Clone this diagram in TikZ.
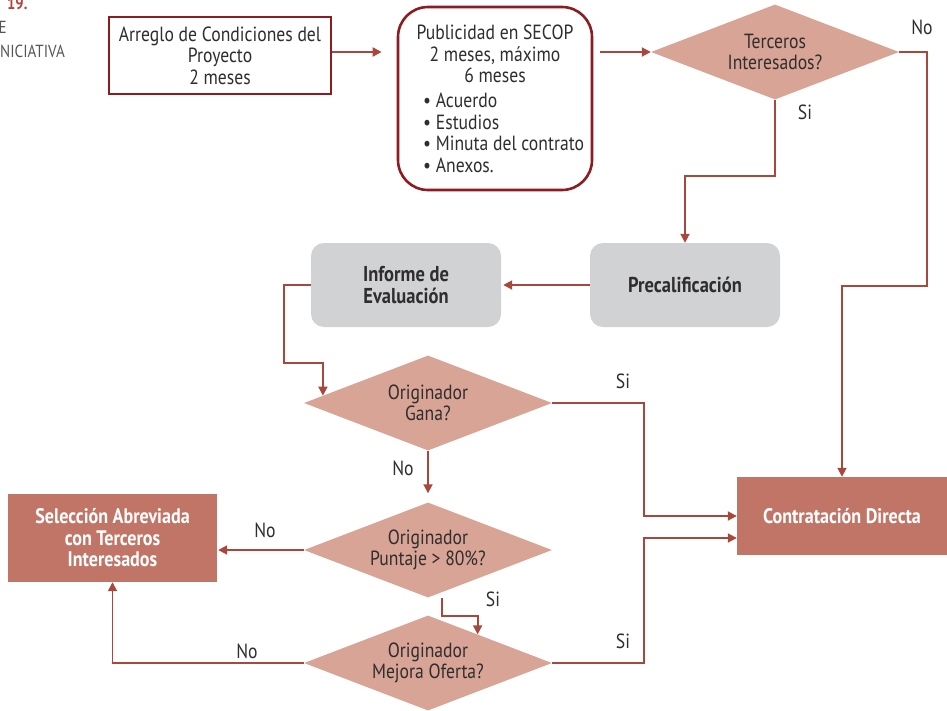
\documentclass[tikz,border=0pt]{standalone}
\usepackage{fontspec}
\setmainfont{PT Sans}[FakeStretch=0.86]
\usetikzlibrary{shapes.geometric,arrows.meta}

\definecolor{flow}{HTML}{A8483C}
\definecolor{frame}{HTML}{8C1C21}
\definecolor{dfill}{HTML}{D8A495}
\definecolor{ofill}{HTML}{C17567}
\definecolor{gfill}{HTML}{D1D2D4}
\definecolor{ink}{HTML}{2F2D2E}
\definecolor{accent}{HTML}{B5413A}
\definecolor{caption}{HTML}{555555}

\begin{document}
\begin{tikzpicture}[x=1pt,y=-1pt,
  every node/.style={font=\fontsize{20.5}{21.5}\selectfont, text=ink},
  framebox/.style={draw=frame, line width=2.6pt, fill=white, align=center, inner sep=0pt},
  question/.style={diamond, fill=dfill, inner sep=0pt, align=center,
                   minimum width=248pt, minimum height=95pt, aspect=2.6},
  greybox/.style={rounded corners=13pt, fill=gfill, minimum width=190pt,
                  minimum height=84pt, align=center, inner sep=0pt,
                  font=\fontsize{21.5}{22}\selectfont\bfseries},
  outcome/.style={fill=ofill, align=center, inner sep=0pt,
                  font=\fontsize{21}{21.5}\selectfont\bfseries, text=white},
  conn/.style={draw=flow, line width=1.8pt, -{Triangle[length=9pt,width=9pt]}},
  tag/.style={font=\fontsize{20.5}{21.5}\selectfont}
]
\useasboundingbox (0,0) rectangle (947,710);

% fragments of the page heading
\node[anchor=base west, inner sep=0pt, text=accent,
      font=\fontsize{17}{17}\selectfont\bfseries] (fignum) at (7,9) {19.};
\node[anchor=base west, inner sep=0pt, text=caption,
      font=\fontsize{17.5}{17.5}\selectfont] (headE) at (-1.5,33) {E};
\node[anchor=base west, inner sep=0pt, text=caption,
      font=\fontsize{17.5}{17.5}\selectfont] (headI) at (0,57) {NICIATIVA};

% main boxes
\node[framebox, minimum width=222pt, minimum height=77pt] (arreglo) at (220,55.5)
  {Arreglo de Condiciones del\\Proyecto\\2 meses};
\node[framebox, rounded corners=30pt, minimum width=194pt, minimum height=183pt]
  (secop) at (495,98.5) {};
\node[align=center, inner sep=0pt] (secoptitle) at (495,54)
  {Publicidad en SECOP\\2 meses, máximo\\6 meses};
\node[align=left, anchor=west, inner sep=0pt] (secoplist) at (423,133)
  {• Acuerdo\\• Estudios\\• Minuta del contrato\\• Anexos.};

\node[question] (d1) at (775,52) {Terceros\\Interesados?};
\node[greybox] (precal) at (685,285) {Precalificación};
\node[greybox] (informe) at (406,285) {Informe de\\Evaluación};
\node[question] (d2) at (428,403) {Originador\\Gana?};
\node[question] (d3) at (428,550) {Originador\\Puntaje > 80\%?};
\node[question] (d4) at (428,663) {Originador\\Mejora Oferta?};
\node[outcome, minimum width=209pt, minimum height=88pt] (selec) at (112.5,538)
  {Selección Abreviada\\con Terceros\\Interesados};
\node[outcome, minimum width=210pt, minimum height=78pt] (direct) at (842,516)
  {Contratación Directa};

% connectors
\coordinate (row1) at (0,52);
\draw[conn, shorten >=15pt] (arreglo.east |- row1) -- (secop.west |- row1);
\draw[conn, shorten <=7pt] (secop.east |- row1) -- (d1.west);
\draw[conn] (d1.east) -- ++(28,0) -- ++(0,234) -| (direct.north);
\draw[conn] (d1.south) -- ++(0,76) -| (precal.north);
\draw[conn, shorten >=2pt] (precal.west) -- (informe.east);
\draw[conn] (informe.west) -- ++(-27,0) -- ++(0,78) -| (d2.176);
\draw[conn] (d2.east) -- ++(92,0) |- (direct.west);
\draw[conn, shorten >=9pt] (d2.south) -- (d3.north);
\draw[conn, shorten >=1pt] (d3.west) -- (d3.west -| selec.east);
\draw[conn] ([xshift=14pt]d3.south) -- ++(0,18) -| (d4.30);
\draw[conn] (d4.west) -- ++(-192,0) -| (selec.south);
\draw[conn] (d4.east) -- ++(92,0) |- ([yshift=-22pt]direct.west);

% branch labels
\node[tag] (l1) at (922,27) {No};
\node[tag] (l2) at (805,112) {Si};
\node[tag] (l3) at (623,381) {Si};
\node[tag] (l4) at (403,468) {No};
\node[tag] (l5) at (265,530) {No};
\node[tag] (l6) at (493,599) {Si};
\node[tag] (l7) at (247,651) {No};
\node[tag] (l8) at (623,641) {Si};
\end{tikzpicture}
\end{document}
